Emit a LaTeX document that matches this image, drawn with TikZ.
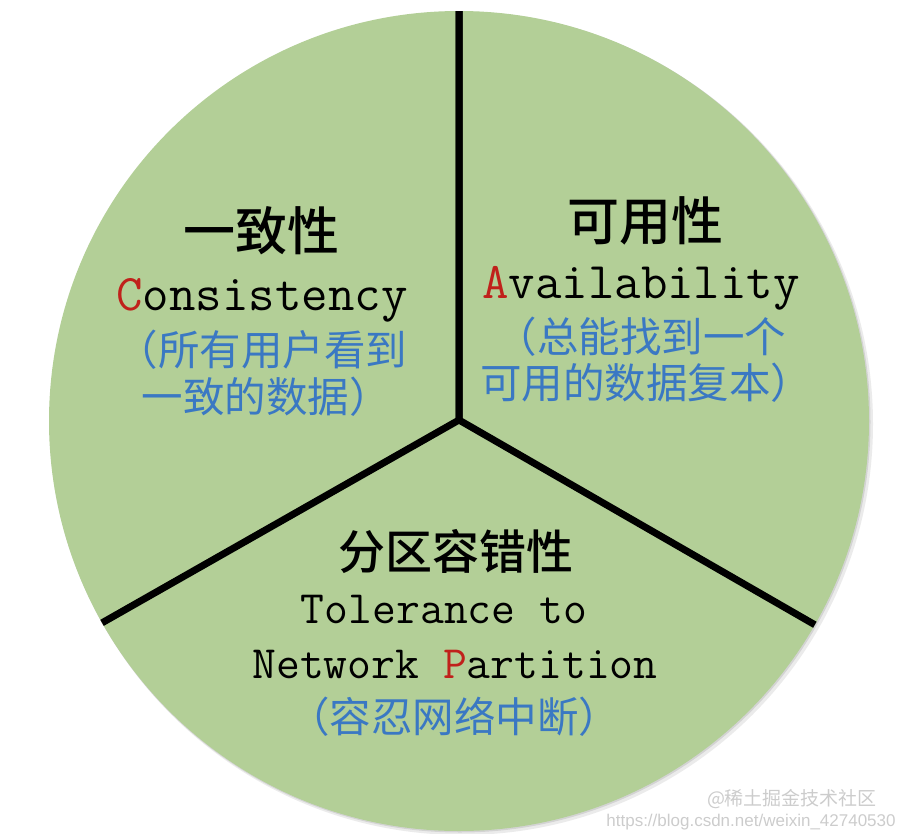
\documentclass[tikz,border=0pt]{standalone}
\usepackage{fontspec}
\newfontfamily\cjk{Noto Sans CJK SC}
\newfontfamily\cjkhead{Noto Sans CJK SC Medium}
\newfontfamily\wmfont{Liberation Sans}
\definecolor{capgreen}{HTML}{B3CF97}
\definecolor{capred}{HTML}{C0211B}
\definecolor{capblue}{HTML}{3A78C3}

\begin{document}
\begin{tikzpicture}[x=1pt,y=-1pt,
  head/.style={anchor=base, inner sep=0pt, font=\cjkhead\fontsize{52}{52}\selectfont},
  eng/.style={anchor=base, inner sep=0pt, font=\ttfamily\fontsize{51.4}{51.4}\selectfont\addfontfeature{FakeBold=1.6}},
  note/.style={anchor=base, inner sep=0pt, text=capblue, font=\cjk\fontsize{41.5}{41.5}\selectfont},
  stamp/.style={anchor=base, inner sep=0pt, text=black!20}]
  \useasboundingbox (0,0) rectangle (897,833);
  % disc with a faint shadow
  \fill[black, opacity=0.08] (462,424) circle (411);
  \fill[black, opacity=0.10] (460,422) circle (410.5);
  \fill[capgreen] (459,421) circle (410);
  \coordinate (hub) at (459,420);
  \coordinate (top) at (459,8);
  \coordinate (lft) at (100,624);
  \coordinate (rgt) at (817,626);
  \begin{scope}
    \clip (459,421) circle (410);
    \draw[line width=7pt] (top) -- (hub) -- (lft);
    \draw[line width=7pt] (top) -- (hub) -- (rgt);
  \end{scope}
  % consistency
  \node[head] (cTitle) at (261,250) {一致性};
  \node[eng] (cWord) at (262,310) {{\color{capred}C}onsistency};
  \node[note] (cNote1) at (262,365) {（所有用户看到};
  \node[note] (cNote2) at (266,412) {一致的数据）};
  % availability
  \node[head] (aTitle) at (645,240) {可用性};
  \node[eng] (aWord) at (641,298) {{\color{capred}A}vailability};
  \node[note] (aNote1) at (641,352) {（总能找到一个};
  \node[note] (aNote2) at (646,398) {可用的数据复本）};
  % partition tolerance
  \node[head, font=\cjkhead\fontsize{47}{47}\selectfont] (pTitle) at (456,569) {分区容错性};
  \node[eng, font=\ttfamily\fontsize{46.3}{46.3}\selectfont\addfontfeature{FakeBold=1.6}] (pWord1) at (444,623) {Tolerance to};
  \node[eng, font=\ttfamily\fontsize{46.3}{46.3}\selectfont\addfontfeature{FakeBold=1.6}] (pWord2) at (455,678) {Network {\color{capred}P}artition};
  \node[note] (pNote) at (454,732) {（容忍网络中断）};
  % watermark
  \node[stamp, font=\cjk\fontsize{19}{19}\selectfont] (wmSite) at (792,805) {@稀土掘金技术社区};
  \node[stamp, font=\wmfont\fontsize{17}{17}\selectfont] (wmLink) at (751,826) {https://blog.csdn.net/weixin\_42740530};
\end{tikzpicture}
\end{document}
